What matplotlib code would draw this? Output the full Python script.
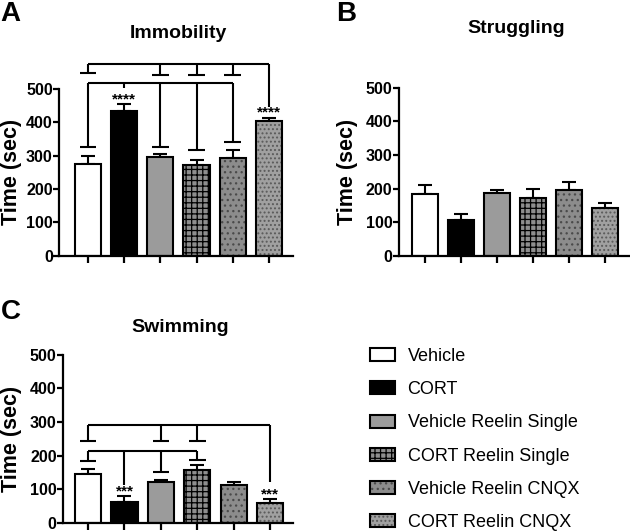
import matplotlib.pyplot as plt
from matplotlib.legend_handler import HandlerTuple
from matplotlib.patches import Patch

plt.rcParams['font.family'] = ['Liberation Sans', 'DejaVu Sans']
plt.rcParams['hatch.linewidth'] = 0.9

groups = ["Vehicle", "CORT", "Vehicle Reelin Single", "CORT Reelin Single",
          "Vehicle Reelin CNQX", "CORT Reelin CNQX"]

immobility = [275, 435, 295, 273, 292, 403]
immobility_err = [25, 20, 10, 14, 26, 10]
struggling = [185, 108, 187, 171, 195, 142]
struggling_err = [25, 15, 10, 28, 23, 15]
swimming = [145, 61, 123, 158, 113, 59]
swimming_err = [15, 18, 5, 14, 10, 13]

# brackets: (level, x_from, x_to, [(x, end_level, has_cap), ...])
immobility_brackets = [
    (575, 0, 5, [(0, 546, True), (2, 540, True), (3, 540, True), (4, 540, True), (5, 447, False)]),
    (518, 0, 4, [(0, 325, True), (1, 502, False), (2, 327, True), (3, 317, True), (4, 342, True)]),
]
swimming_brackets = [
    (291, 0, 5, [(0, 245, True), (2, 245, True), (3, 245, True), (5, 123, False)]),
    (214, 0, 3, [(0, 184, True), (1, 113, False), (2, 153, True), (3, 187, True)]),
]
immobility_stars = [(1, 468, "****"), (5, 428, "****")]
swimming_stars = [(1, 93, "***"), (5, 85, "***")]

# face, hatch, hatch colour
styles = [
    ("white", None, "black"),
    ("black", None, "black"),
    ("#9b9b9b", None, "black"),
    ("#8e8e8e", "+++", "black"),
    ("#8c8c8c", "...", "#4a4a4a"),
    ("#a0a0a0", "....", "#5a5a5a"),
]

fig = plt.figure(figsize=(6.3, 5.32), dpi=100)

ax_a = fig.add_axes([0.0937, 0.519, 0.371, 0.314])
ax_b = fig.add_axes([0.633, 0.519, 0.367, 0.3165])
ax_c = fig.add_axes([0.100, 0.0170, 0.365, 0.316])

x = list(range(len(groups)))


def draw_panel(ax, values, errs, title, title_xy, xlim, label_x):
    for i, v in enumerate(values):
        face, hatch, hcol = styles[i]
        ax.bar(i, v, width=0.72, color=face, hatch=hatch, edgecolor=hcol, linewidth=0, zorder=2)
        ax.bar(i, v, width=0.72, facecolor="none", edgecolor="black", linewidth=1.5, zorder=3)
    ax.errorbar(x, values, yerr=[[0] * len(errs), errs], fmt="none", ecolor="black",
                elinewidth=1.5, capsize=4.7, capthick=1.5, zorder=1)
    ax.set_ylim(0, 500)
    ax.set_xlim(*xlim)
    ax.set_yticks(range(0, 501, 100))
    ax.set_xticks(x)
    ax.set_xticklabels([])
    for s in ("top", "right"):
        ax.spines[s].set_visible(False)
    for s in ("left", "bottom"):
        ax.spines[s].set_linewidth(1.6)
    ax.tick_params(axis="y", length=4, width=1.6, pad=0.5, labelsize=11.5)
    ax.tick_params(axis="x", length=5, width=1.6)
    for lab in ax.get_yticklabels():
        lab.set_fontweight("bold")
    ax.set_ylabel("Time (sec)", fontsize=15.5, fontweight="bold")
    ax.yaxis.set_label_coords(label_x, 0.5)
    ax.text(title_xy[0], title_xy[1], title, transform=ax.transAxes, ha="center",
            va="baseline", fontsize=14, fontweight="bold")


def draw_brackets(ax, brackets, stars):
    kw = dict(color="black", linewidth=1.5, clip_on=False, solid_capstyle="butt", zorder=4)
    for level, xa, xb, drops in brackets:
        ax.plot([xa, xb], [level, level], **kw)
        for xd, end, cap in drops:
            ax.plot([xd, xd], [level, end], **kw)
            if cap:
                ax.plot([xd - 0.23, xd + 0.23], [end, end], **kw)
    for xs, ys, s in stars:
        ax.text(xs, ys, s, ha="center", va="center", fontsize=11, fontweight="bold")


draw_panel(ax_a, immobility, immobility_err, "Immobility", (0.513, 1.302), (-0.80, 5.66), -0.158)
draw_panel(ax_b, struggling, struggling_err, "Struggling", (0.506, 1.322), (-0.72, 5.69), -0.177)
draw_panel(ax_c, swimming, swimming_err, "Swimming", (0.509, 1.138), (-0.69, 5.63), -0.178)
draw_brackets(ax_a, immobility_brackets, immobility_stars)
draw_brackets(ax_c, swimming_brackets, swimming_stars)

fig.text(0.0, 0.998, "A", fontsize=20, fontweight="bold", va="top")
fig.text(0.533, 0.998, "B", fontsize=20, fontweight="bold", va="top")
fig.text(0.002, 0.438, "C", fontsize=20, fontweight="bold", va="top")

handles = []
for face, hatch, hcol in styles:
    h1 = Patch(facecolor=face, hatch=hatch, edgecolor=hcol, linewidth=0)
    h2 = Patch(facecolor="none", edgecolor="black", linewidth=1.5)
    handles.append((h1, h2))
fig.legend(handles, groups, loc="upper left", bbox_to_anchor=(0.587, 0.346), frameon=False,
           fontsize=13, handlelength=1.39, handleheight=0.72, handletextpad=0.7,
           labelspacing=0.9, borderpad=0, borderaxespad=0,
           handler_map={tuple: HandlerTuple(ndivide=1)})

fig.savefig("out.png", dpi=100)
